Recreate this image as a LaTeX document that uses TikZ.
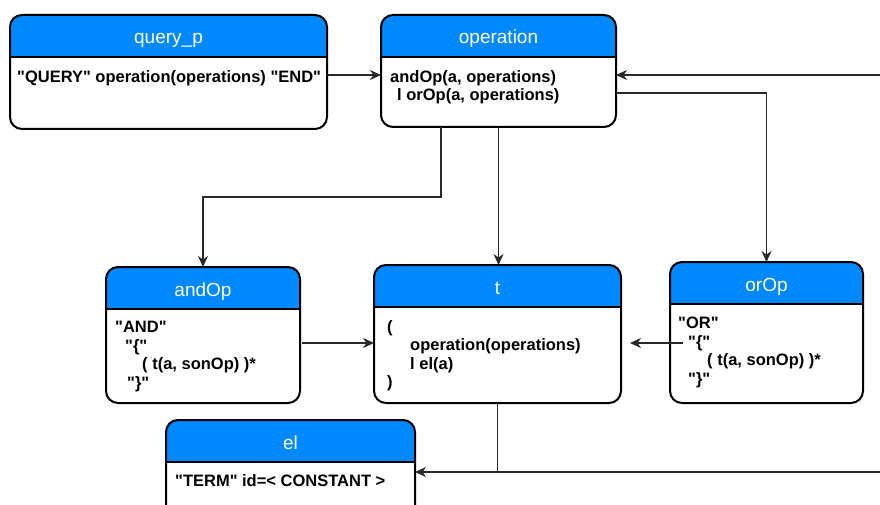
\documentclass[tikz,border=0pt]{standalone}
\usepackage{fontspec}
\setmainfont{Liberation Sans}[Ligatures=TeXOff]
\usetikzlibrary{arrows.meta}

\definecolor{hdrblue}{RGB}{0,136,255}
\definecolor{connclr}{RGB}{40,40,40}

\tikzset{
  umlbox/.style={draw=black, line width=2pt, rounded corners=12pt, fill=white,
    inner sep=0pt, outer sep=0pt,
    path picture={
      \fill[hdrblue, sharp corners] (path picture bounding box.north west)
        rectangle ([yshift=-42pt]path picture bounding box.north east);
      \draw[line width=2pt, sharp corners] ([yshift=-42pt]path picture bounding box.north west)
        -- ([yshift=-42pt]path picture bounding box.north east);
    }},
  hdr/.style={anchor=base, text=white, inner sep=0pt,
    font=\fontsize{19pt}{22pt}\selectfont},
  bodytxt/.style={anchor=north west, align=left, inner sep=0pt,
    font=\fontsize{16.5pt}{18.6pt}\selectfont\bfseries},
  conn/.style={draw=connclr, line width=1.3pt,
    -{Stealth[length=11pt,width=10pt,inset=3.5pt]}},
  plainline/.style={draw=connclr, line width=1.3pt},
}

\begin{document}
\begin{tikzpicture}[x=1pt, y=-1pt]
\useasboundingbox (0,0) rectangle (880,505);
\clip (0,0) rectangle (880,505);

% 第1行
\node[umlbox, minimum width=317pt, minimum height=114pt] (query) at (168.5,72) {};
\node[umlbox, minimum width=235pt, minimum height=112pt] (operation) at (498.5,71) {};

% 第2行
\node[umlbox, minimum width=194pt, minimum height=136pt] (andOp) at (203,335) {};
\node[umlbox, minimum width=247pt, minimum height=138pt] (t) at (497.5,334) {};
\node[umlbox, minimum width=193pt, minimum height=141pt] (orOp) at (766.5,332.5) {};

% 第3行
\node[umlbox, minimum width=249pt, minimum height=120pt] (el) at (290.5,480) {};

% 标题
\node[hdr] (queryT) at ([yshift=-29pt]query.north) {query\_p};
\node[hdr] (operationT) at ([yshift=-29pt]operation.north) {operation};
\node[hdr] (andOpT) at ([yshift=-29pt]andOp.north) {andOp};
\node[hdr] (tT) at ([yshift=-29pt]t.north) {t};
\node[hdr] (orOpT) at ([yshift=-29pt]orOp.north) {orOp};
\node[hdr] (elT) at ([yshift=-29pt]el.north) {el};

% 内容
\node[bodytxt] (queryB) at ([xshift=7pt,yshift=-55pt]query.north west)
  {"QUERY" operation(operations) "END"};
\node[bodytxt] (operationB) at ([xshift=9pt,yshift=-55pt]operation.north west)
  {andOp(a, operations)\\\hspace*{7pt}l orOp(a, operations)};
\node[bodytxt] (andOpB) at ([xshift=9pt,yshift=-54pt]andOp.north west)
  {"AND"\\\hspace*{10pt}"\{"\\\hspace*{27pt}( t(a, sonOp) )*\\\hspace*{12pt}"\}"};
\node[bodytxt] (tB) at ([xshift=13pt,yshift=-55pt]t.north west)
  {(\\\hspace*{23pt}operation(operations)\\\hspace*{23pt}l el(a)\\)};
\node[bodytxt] (orOpB) at ([xshift=8pt,yshift=-55pt]orOp.north west)
  {"OR"\\\hspace*{10pt}"\{"\\\hspace*{29pt}( t(a, sonOp) )*\\\hspace*{10pt}"\}"};
\node[bodytxt] (elB) at ([xshift=9pt,yshift=-54pt]el.north west)
  {"TERM" id=< CONSTANT >};

% 连线
\coordinate (rtop) at (880,75);
\coordinate (rbot) at (880,472);
\coordinate (split) at (441,197);
\coordinate (a2t) at ([xshift=2pt,yshift=-8pt]andOp.east);
\coordinate (o2t) at ([xshift=13pt,yshift=-10.5pt]orOp.west);
\coordinate (join) at (t.south |- rbot);

\draw[conn] ([yshift=-3pt]query.east) -- ([yshift=-3pt]query.east -| operation.west);
\draw[conn] (rtop) -- (rtop -| operation.east);
\draw[conn] ([yshift=-22pt]operation.east) -| (orOp.north);
\draw[conn] (split |- operation.south) -- (split) -| (andOp.north);
\draw[conn] (operation.south) -- (operation.south |- t.north);

\draw[conn] (a2t) -- (a2t -| t.west);
\draw[conn, shorten >=9pt] (o2t) -- (o2t -| t.east);

\draw[plainline] (t.south) -- (join);
\draw[conn] (rbot) -- (rbot -| el.east);
\end{tikzpicture}
\end{document}
